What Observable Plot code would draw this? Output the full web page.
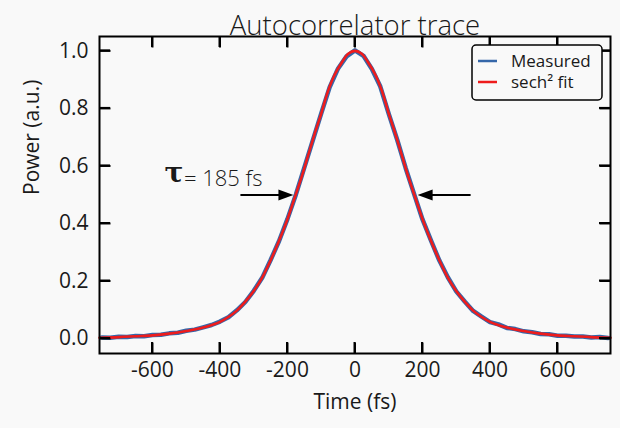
<!DOCTYPE html>
<html><head><meta charset="utf-8">
<script src="https://cdn.jsdelivr.net/npm/d3@7"></script>
<script src="https://cdn.jsdelivr.net/npm/@observablehq/plot@0.6"></script>
<style>
body{margin:0;background:#f9f9f9;}
#chart{width:620px;height:428px;}
</style></head><body><div id="chart"></div>
<script>
const title = "Autocorrelator trace";
const xLabel = "Time (fs)";
const yLabel = "Power (a.u.)";
const seriesNames = ["Measured", "sech² fit"];
const seriesColors = ["#3567a9", "#ee1c1c"];
const xTicks = [-600, -400, -200, 0, 200, 400, 600];
const yTicks = [0, 0.2, 0.4, 0.6, 0.8, 1.0];

const fitT = [-757,-700,-650,-600,-550,-500,-450,-400,-375,-350,-325,-300,-275,-250,-225,-200,-180,-160,-140,-120,-100,-80,-60,-40,-20,0,20,40,60,80,100,120,140,160,180,200,225,250,275,300,325,350,375,400,450,500,550,600,650,700,757];
const fitV = [0.003,0.005,0.008,0.011,0.017,0.026,0.038,0.058,0.075,0.097,0.128,0.165,0.212,0.272,0.34,0.415,0.485,0.555,0.632,0.71,0.782,0.86,0.918,0.958,0.99,1.0,0.99,0.958,0.918,0.86,0.782,0.71,0.632,0.555,0.485,0.415,0.34,0.272,0.212,0.165,0.128,0.097,0.075,0.058,0.038,0.026,0.017,0.011,0.008,0.005,0.003];

const measT = [-750,-725,-700,-675,-650,-625,-600,-575,-550,-525,-500,-475,-450,-425,-400,-375,-350,-325,-300,-275,-250,-225,-200,-175,-150,-125,-100,-75,-50,-25,0,25,50,75,100,125,150,175,200,225,250,275,300,325,350,375,400,425,450,475,500,525,550,575,600,625,650,675,700,725,750];
const measV = [0.004,0.0025,0.006,0.005,0.009,0.008,0.012,0.013,0.018,0.020,0.027,0.031,0.039,0.047,0.059,0.074,0.098,0.127,0.166,0.211,0.273,0.339,0.416,0.501,0.595,0.689,0.783,0.874,0.939,0.981,1.002,0.983,0.937,0.876,0.781,0.691,0.593,0.503,0.414,0.341,0.271,0.213,0.164,0.129,0.096,0.076,0.057,0.049,0.037,0.033,0.025,0.022,0.016,0.015,0.010,0.010,0.007,0.007,0.004,0.005,0.002];

const fwhmLeft = -181, fwhmRight = 187, fwhmLevel = 0.497;
const tauSymbol = "τ";
const tauLabel = "= 185 fs";

const fit = fitT.map((t, i) => ({t, v: fitV[i]}));
const meas = measT.map((t, i) => ({t, v: measV[i]}));

const W = 620, H = 428, mL = 99, mR = 10, mT = 36, mB = 75;
const fw = W - mL - mR, fh = H - mT - mB;
const xDom = [-757, 757], yDom = [-0.052, 1.05];
const tickLen = 11;
const dY = tickLen * (yDom[1] - yDom[0]) / fh;
const dX = tickLen * (xDom[1] - xDom[0]) / fw;
const ink = "#1a1a1a";

// tick segments (data units) built from the tick arrays
const tickSegs = [
  ...xTicks.map(v => ({x1: v, x2: v, y1: yDom[0], y2: yDom[0] + dY})),
  ...xTicks.map(v => ({x1: v, x2: v, y1: yDom[1], y2: yDom[1] - dY})),
  ...yTicks.map(v => ({x1: xDom[0], x2: xDom[0] + dX, y1: v, y2: v})),
  ...yTicks.map(v => ({x1: xDom[1], x2: xDom[1] - dX, y1: v, y2: v}))
];

const plot = Plot.plot({
  width: W, height: H,
  marginLeft: mL, marginRight: mR, marginTop: mT, marginBottom: mB,
  x: {domain: xDom},
  y: {domain: yDom},
  style: {fontFamily: "'Open Sans', sans-serif", fontSize: "21px", background: "#f9f9f9", color: ink, overflow: "visible"},
  marks: [
    Plot.line(meas, {x: "t", y: "v", stroke: seriesColors[0], strokeWidth: 4.5}),
    Plot.line(fit, {x: "t", y: "v", stroke: seriesColors[1], strokeWidth: 2.6, curve: "catmull-rom"}),
    Plot.link(tickSegs, {x1: d => d.x1, x2: d => d.x2, y1: d => d.y1, y2: d => d.y2, stroke: "#000", strokeWidth: 2, strokeOpacity: 1}),
    Plot.frame({stroke: "black", strokeWidth: 2}),
    Plot.axisX(xTicks, {tickSize: 0, tickPadding: 9, label: null, tickFormat: d => String(d)}),
    Plot.axisY(yTicks, {tickSize: 0, tickPadding: 11, label: null, tickFormat: d => d.toFixed(1)}),
    Plot.text([title], {frameAnchor: "top", dy: -21, fontSize: 27.5, fontWeight: 300, fill: ink}),
    Plot.text([xLabel], {frameAnchor: "bottom", dy: 55, fontSize: 21, fill: ink}),
    Plot.text([yLabel], {frameAnchor: "left", dx: -67, rotate: -90, fontSize: 21, fill: ink}),
    Plot.text([tauSymbol], {x: () => fwhmLeft, y: () => fwhmLevel, dx: -120, dy: -23, fontSize: 28, fontWeight: "bold", fontFamily: "DejaVu Serif", fill: ink}),
    Plot.text([tauLabel], {x: () => fwhmLeft, y: () => fwhmLevel, dx: -110, dy: -17, textAnchor: "start", fontSize: 22, fontWeight: 300, fill: ink})
  ]
});
document.getElementById("chart").appendChild(plot);

const svg = d3.select(plot);
const sx = plot.scale("x"), sy = plot.scale("y");
const px = v => sx.apply(v), py = v => sy.apply(v);
// inward ticks again as plain svg lines, each with its own stroke
for (const s of tickSegs) {
  svg.append("line")
    .attr("x1", px(s.x1)).attr("x2", px(s.x2)).attr("y1", py(s.y1)).attr("y2", py(s.y2))
    .attr("stroke", "#000").attr("stroke-width", 2).attr("stroke-linecap", "butt");
}
// FWHM arrows
[[fwhmLeft, -1], [fwhmRight, 1]].forEach(([t, s]) => {
  const tx = px(t), ty = py(fwhmLevel);
  svg.append("line").attr("x1", tx + s * 53).attr("x2", tx + s * 12).attr("y1", ty).attr("y2", ty)
    .attr("stroke", "black").attr("stroke-width", 2);
  svg.append("path").attr("d", `M${tx},${ty}L${tx + s * 15},${ty - 5.5}L${tx + s * 15},${ty + 5.5}Z`).attr("fill", "black");
});
// legend
const lg = svg.append("g").attr("text-anchor", "start");
lg.append("rect").attr("x", 472).attr("y", 45).attr("width", 130).attr("height", 55).attr("rx", 4)
  .attr("fill", "#f9f9f9").attr("stroke", "black").attr("stroke-width", 1.5);
seriesNames.forEach((n, i) => {
  const y = 61 + i * 21;
  lg.append("line").attr("x1", 478).attr("x2", 497).attr("y1", y).attr("y2", y)
    .attr("stroke", seriesColors[i]).attr("stroke-width", 2.5);
  lg.append("text").attr("x", 511).attr("y", y).attr("dy", "0.35em").attr("text-anchor", "start")
    .attr("font-size", 17).attr("fill", ink).text(n);
});
</script></body></html>
